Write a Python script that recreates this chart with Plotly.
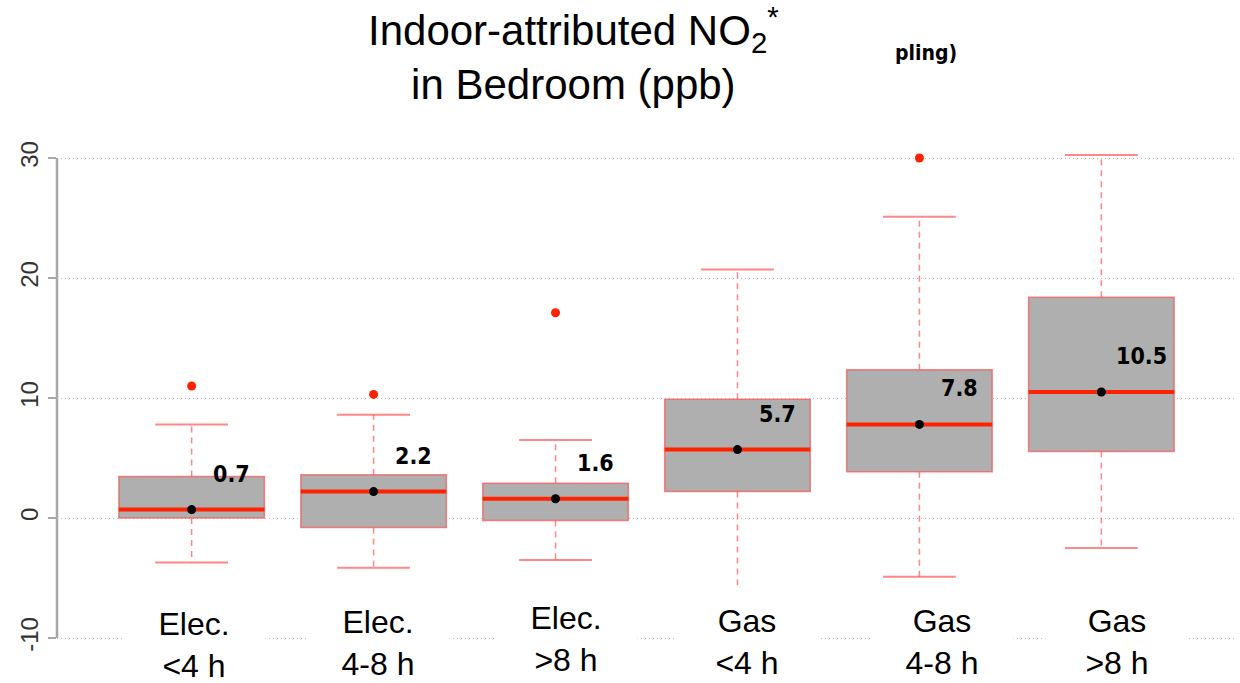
import plotly.graph_objects as go

# ---- data ----
categories = ["Elec.<br><4 h", "Elec.<br>4-8 h", "Elec.<br>>8 h",
              "Gas<br><4 h", "Gas<br>4-8 h", "Gas<br>>8 h"]
q1 = [0.0, -0.8, -0.2, 2.2, 3.85, 5.55]
median = [0.7, 2.2, 1.6, 5.7, 7.8, 10.5]
q3 = [3.45, 3.6, 2.9, 9.9, 12.35, 18.4]
lower_whisker = [-3.7, -4.15, -3.5, -6.5, -4.9, -2.5]
upper_whisker = [7.8, 8.6, 6.5, 20.7, 25.1, 30.25]
means = [0.7, 2.2, 1.6, 5.7, 7.8, 10.5]
outliers = [[11.0], [10.3], [17.1], [], [30.0], []]
y_ticks = [-10, 0, 10, 20, 30]

xs = list(range(1, len(categories) + 1))

# pixel -> paper helpers (plot area: x 57..1236, y 122..674)
L, R, T, B = 57, 1236, 122, 674
def px(x):
    return (x - L) / (R - L)
def py(y):
    return (B - y) / (B - T)

RED = "#FF2200"
PALE = "rgba(255,70,70,0.65)"
NARROW = "DejaVu Sans Condensed"

fig = go.Figure()

# box bodies
fig.add_trace(go.Box(
    x=xs, q1=q1, median=median, q3=q3, lowerfence=q1, upperfence=q3,
    width=0.8, whiskerwidth=0, boxpoints=False,
    fillcolor="#AFAFAF", line=dict(color=PALE, width=1.5),
    hoverinfo="skip",
))

# dashed whiskers
wx, wy = [], []
for i, a, b, lo, hi in zip(xs, q1, q3, lower_whisker, upper_whisker):
    wx += [i, i, None, i, i, None]
    wy += [b, hi, None, a, lo, None]
fig.add_trace(go.Scatter(x=wx, y=wy, mode="lines",
                         line=dict(color=PALE, width=1.5, dash="6px,5px"),
                         hoverinfo="skip"))

# whisker caps
cx, cy = [], []
for i, lo, hi in zip(xs, lower_whisker, upper_whisker):
    cx += [i - 0.2, i + 0.2, None, i - 0.2, i + 0.2, None]
    cy += [hi, hi, None, lo, lo, None]
fig.add_trace(go.Scatter(x=cx, y=cy, mode="lines",
                         line=dict(color=PALE, width=2), hoverinfo="skip"))

# medians
mx, my = [], []
for i, m in zip(xs, median):
    mx += [i - 0.4, i + 0.4, None]
    my += [m, m, None]
fig.add_trace(go.Scatter(x=mx, y=my, mode="lines",
                         line=dict(color=RED, width=4), hoverinfo="skip"))

# means
fig.add_trace(go.Scatter(x=xs, y=means, mode="markers",
                         marker=dict(color="black", size=9)))

# outliers
ox, oy = [], []
for i, vals in zip(xs, outliers):
    for v in vals:
        ox.append(i)
        oy.append(v)
fig.add_trace(go.Scatter(x=ox, y=oy, mode="markers",
                         marker=dict(color=RED, size=9)))

annotations = []
# median value labels
for i, m in zip(xs, median):
    annotations.append(dict(
        x=i + 0.22, y=m + 3.0, xref="x", yref="y", text=f"<b>{m}</b>",
        showarrow=False,
        font=dict(family=NARROW, size=23, color="black"),
    ))

# category labels (white boxes)
label_px = [194, 378, 566, 747, 942, 1117]
label_py = [645, 643, 639, 642, 642, 642]
for cat, lx, ly in zip(categories, label_px, label_py):
    annotations.append(dict(
        x=px(lx), y=py(ly), xref="paper", yref="paper", text=cat,
        showarrow=False, xanchor="center", yanchor="middle",
        bgcolor="white", width=140, height=110,
        font=dict(family="Liberation Sans", size=32, color="black"),
    ))

# title
annotations.append(dict(
    x=px(573), y=py(-2), xref="paper", yref="paper",
    text="Indoor-attributed NO<sub>2</sub><sup>*</sup><br>in Bedroom (ppb)",
    showarrow=False, xanchor="center", yanchor="top",
    font=dict(family="Liberation Sans", size=42, color="black"),
))
annotations.append(dict(
    x=px(926), y=py(53), xref="paper", yref="paper", text="<b>pling)</b>",
    showarrow=False, xanchor="center", yanchor="middle",
    font=dict(family=NARROW, size=21, color="black"),
))

shapes = [
    # mask hiding part of top gridline (under the title box)
    dict(type="rect", xref="paper", yref="y", x0=px(237), x1=px(918),
         y0=29, y1=31, fillcolor="white", line=dict(width=0), layer="between"),
    # y-axis line spanning the ticks
    dict(type="line", xref="paper", yref="y", x0=0, x1=0,
         y0=min(y_ticks), y1=max(y_ticks), line=dict(color="#A8A8A8", width=2.5)),
]

fig.update_layout(
    width=1240, height=683,
    margin=dict(l=L, r=1240 - R, t=T, b=683 - B),
    paper_bgcolor="white", plot_bgcolor="white",
    showlegend=False,
    annotations=annotations, shapes=shapes,
    xaxis=dict(range=[0.26, 6.74], visible=False),
    yaxis=dict(range=[-13, 33], tickvals=y_ticks, ticktext=[str(t) for t in y_ticks],
               tickangle=-90, ticks="outside", ticklen=8, tickwidth=2,
               tickcolor="#A8A8A8", showline=False, zeroline=False,
               showgrid=True, gridcolor="#BDBDBD", griddash="1px,3px", gridwidth=1,
               tickfont=dict(family="Liberation Sans", size=24, color="#333333")),
)

fig.write_html("out.html")
